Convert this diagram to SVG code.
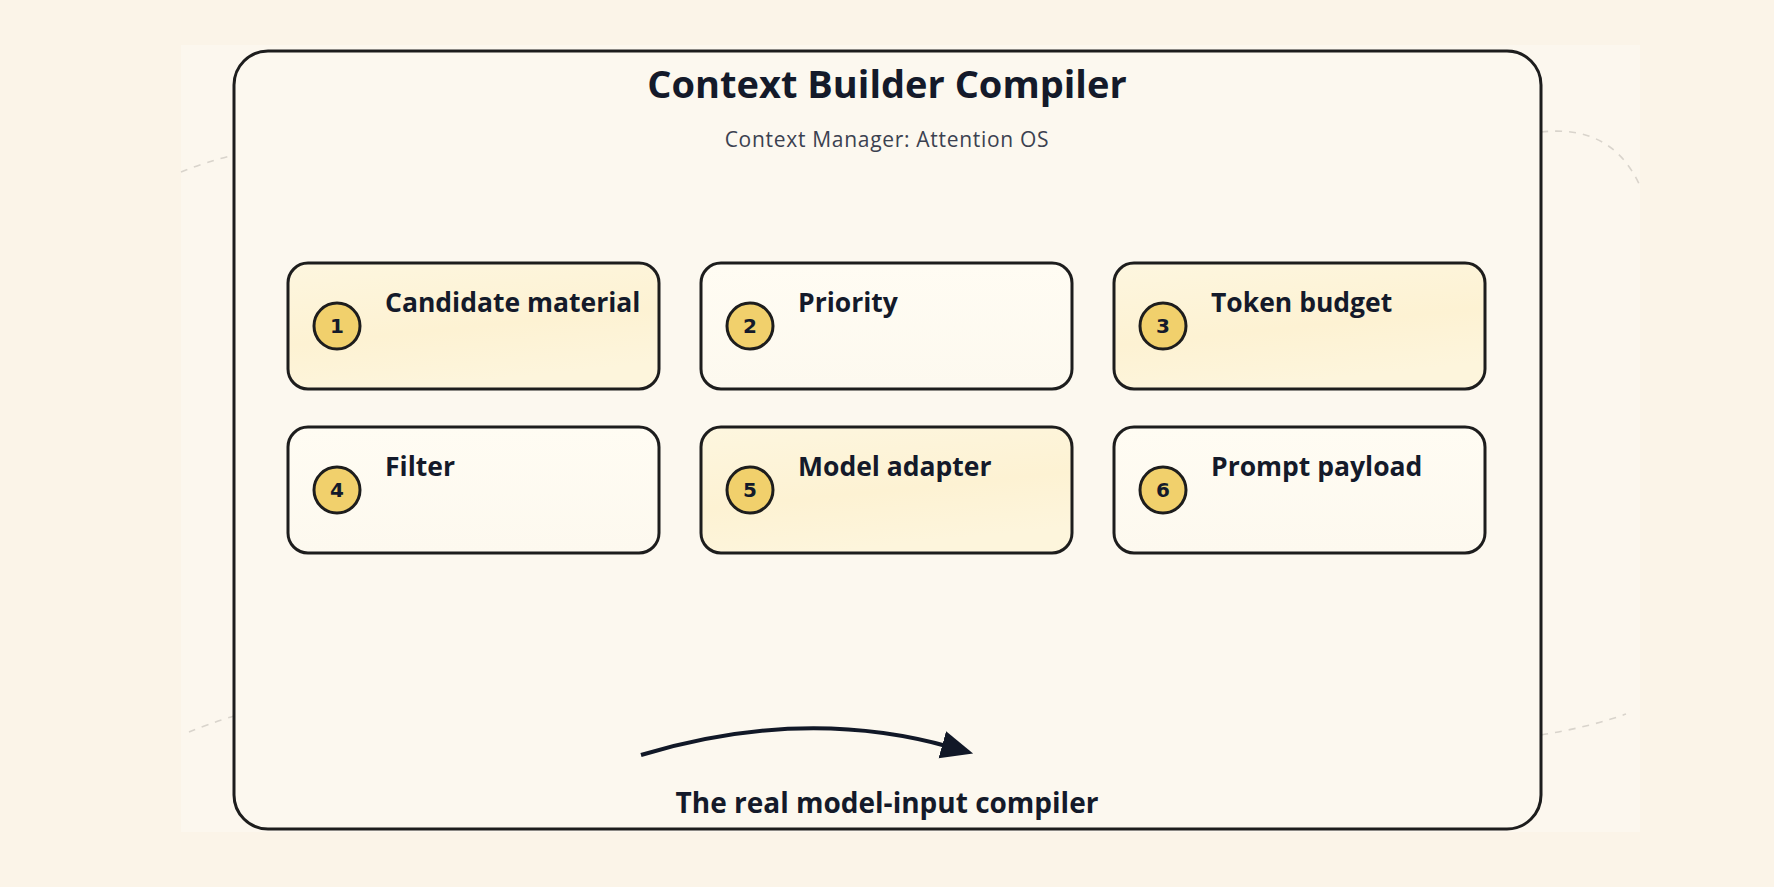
<svg xmlns="http://www.w3.org/2000/svg" width="1774" height="887" viewBox="0 0 1774 887">
  <defs>
    <linearGradient id="warm" x1="0" y1="0" x2="0.3" y2="1">
      <stop offset="0" stop-color="#fdf6df"/>
      <stop offset="0.6" stop-color="#fdf2d3"/>
      <stop offset="1" stop-color="#fdf5dc"/>
    </linearGradient>
    <linearGradient id="plain" x1="0" y1="0" x2="0" y2="1">
      <stop offset="0" stop-color="#fffcf3"/>
      <stop offset="1" stop-color="#fdf9ef"/>
    </linearGradient>
    <marker id="arrow" markerUnits="userSpaceOnUse" markerWidth="34" markerHeight="34" viewBox="0 0 34 34" refX="8" refY="17" orient="auto">
      <path d="M0,3 L32,17 L0,31 Z" fill="#111827"/>
    </marker>
    <style>
      .frame { fill: #fcf8ef; stroke: #1d1d1d; stroke-width: 3; }
      .node-warm { fill: url(#warm); stroke: #1d1d1d; stroke-width: 3; }
      .node-plain { fill: url(#plain); stroke: #1d1d1d; stroke-width: 3; }
      .badge { fill: #f1d06c; stroke: #1d1d1d; stroke-width: 3; }
      .num { font-family: "DejaVu Sans", "Liberation Sans", sans-serif; font-weight: 700; font-size: 20px; fill: #141a2a; text-anchor: middle; }
      .label { font-family: "Open Sans", "Noto Sans", sans-serif; font-weight: 700; font-size: 26.5px; fill: #141a2a; }
      .title { font-family: "Open Sans", "Noto Sans", sans-serif; font-weight: 700; font-size: 38px; fill: #141a2a; text-anchor: middle; }
      .subtitle { font-family: "Open Sans", "Noto Sans", sans-serif; font-weight: 400; font-size: 21px; letter-spacing: 0.7px; fill: #3b4150; text-anchor: middle; }
      .caption { font-family: "Open Sans", "Noto Sans", sans-serif; font-weight: 700; font-size: 28px; fill: #141a2a; text-anchor: middle; }
      .deco { fill: none; stroke: #d9d4cc; stroke-width: 1.6; stroke-dasharray: 7 7; }
    </style>
  </defs>

  <rect x="0" y="0" width="1774" height="887" fill="#fbf4e8"/>
  <rect x="181" y="45" width="1459" height="787" fill="#fcf7ee"/>

  <g id="decoration">
    <path class="deco" d="M181,172 Q205,162 234,155"/>
    <path class="deco" d="M1541,132 Q1612,124 1640,186"/>
    <path class="deco" d="M189,732 Q208,724 234,716"/>
    <path class="deco" d="M1541,735 Q1590,727 1626,714"/>
  </g>

  <g id="frame">
    <rect class="frame" x="234" y="51" width="1307" height="778" rx="34" ry="34"/>
    <text class="title" x="887" y="98">Context Builder Compiler</text>
    <text class="subtitle" x="887" y="147">Context Manager: Attention OS</text>
  </g>

  <g id="node1">
    <rect class="node-warm" x="288" y="263" width="371" height="126" rx="20" ry="20"/>
    <circle class="badge" cx="337" cy="326" r="23"/>
    <text class="num" x="337" y="333">1</text>
    <text class="label" x="385" y="312">Candidate material</text>
  </g>
  <g id="node2">
    <rect class="node-plain" x="701" y="263" width="371" height="126" rx="20" ry="20"/>
    <circle class="badge" cx="750" cy="326" r="23"/>
    <text class="num" x="750" y="333">2</text>
    <text class="label" x="798" y="312">Priority</text>
  </g>
  <g id="node3">
    <rect class="node-warm" x="1114" y="263" width="371" height="126" rx="20" ry="20"/>
    <circle class="badge" cx="1163" cy="326" r="23"/>
    <text class="num" x="1163" y="333">3</text>
    <text class="label" x="1211" y="312">Token budget</text>
  </g>
  <g id="node4">
    <rect class="node-plain" x="288" y="427" width="371" height="126" rx="20" ry="20"/>
    <circle class="badge" cx="337" cy="490" r="23"/>
    <text class="num" x="337" y="497">4</text>
    <text class="label" x="385" y="476">Filter</text>
  </g>
  <g id="node5">
    <rect class="node-warm" x="701" y="427" width="371" height="126" rx="20" ry="20"/>
    <circle class="badge" cx="750" cy="490" r="23"/>
    <text class="num" x="750" y="497">5</text>
    <text class="label" x="798" y="476">Model adapter</text>
  </g>
  <g id="node6">
    <rect class="node-plain" x="1114" y="427" width="371" height="126" rx="20" ry="20"/>
    <circle class="badge" cx="1163" cy="490" r="23"/>
    <text class="num" x="1163" y="497">6</text>
    <text class="label" x="1211" y="476">Prompt payload</text>
  </g>

  <g id="connectors">
    <path d="M641,755 Q804,706 950,747" fill="none" stroke="#111827" stroke-width="4" marker-end="url(#arrow)"/>
    <text class="caption" x="887" y="813">The real model-input compiler</text>
  </g>
</svg>
